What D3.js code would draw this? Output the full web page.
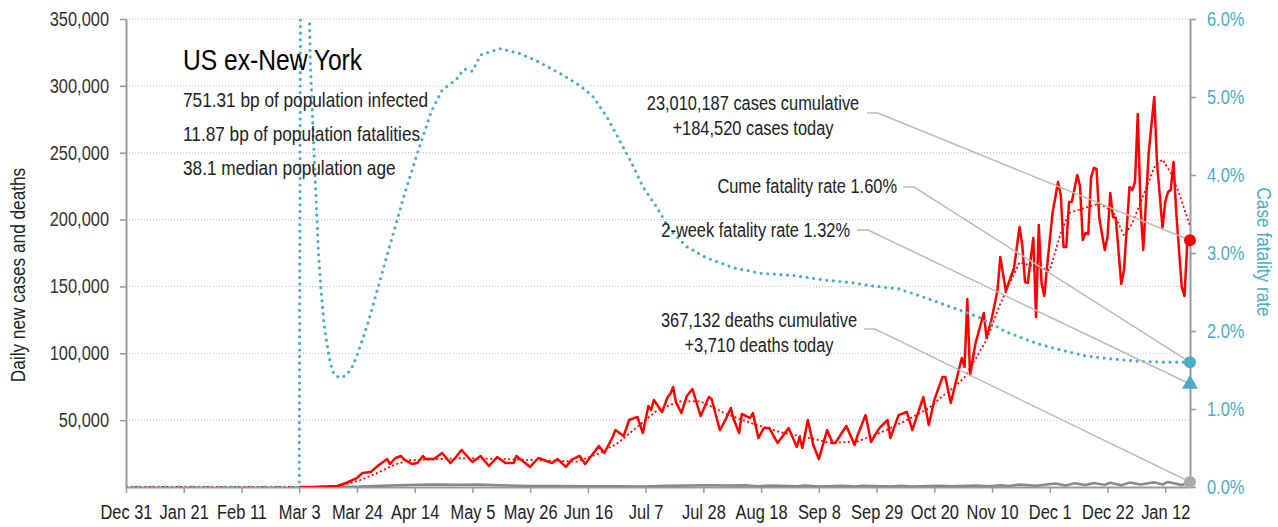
<!DOCTYPE html>
<html>
<head>
<meta charset="utf-8">
<script src="https://cdn.jsdelivr.net/npm/d3@7"></script>
<style>
  body { margin: 0; background: #fff; }
  text { font-family: "Liberation Sans", Arial, sans-serif; }
</style>
</head>
<body>
<svg id="chart" width="1278" height="527"></svg>
<script>
var margin = { top: 19, right: 88, bottom: 40, left: 126 };

// daily new cases, turning points
var dailyCases = [
  ["2020-03-03",0],["2020-03-08",0],["2020-03-17",750],["2020-03-20",3000],["2020-03-24",6700],
  ["2020-03-26",10500],["2020-03-29",11200],["2020-04-01",16500],["2020-04-04",20900],["2020-04-05",17200],
  ["2020-04-07",21700],["2020-04-09",23200],["2020-04-10",20900],["2020-04-13",17200],["2020-04-15",17900],
  ["2020-04-17",23200],["2020-04-18",20900],["2020-04-21",20900],["2020-04-24",25400],["2020-04-27",17900],
  ["2020-04-29",22400],["2020-05-01",27700],["2020-05-05",18700],["2020-05-08",23200],["2020-05-11",15700],
  ["2020-05-14",22400],["2020-05-17",17900],["2020-05-20",17900],["2020-05-21",23200],["2020-05-26",15000],
  ["2020-05-29",21700],["2020-06-03",17900],["2020-06-05",20900],["2020-06-08",15000],["2020-06-10",20200],
  ["2020-06-13",23200],["2020-06-15",17200],["2020-06-20",30700],["2020-06-22",25400],["2020-06-25",37400],
  ["2020-06-26",42600],["2020-06-29",38100],["2020-07-01",50100],["2020-07-04",52400],["2020-07-06",40400],
  ["2020-07-08",60600],["2020-07-09",57600],["2020-07-10",65100],["2020-07-13",56100],["2020-07-15",67300],
  ["2020-07-16",69600],["2020-07-17",74800],["2020-07-18",63600],["2020-07-20",55300],["2020-07-22",68100],
  ["2020-07-24",73300],["2020-07-27",53100],["2020-07-30",67300],["2020-07-31",65800],["2020-08-03",42600],
  ["2020-08-05",50100],["2020-08-07",59100],["2020-08-08",50900],["2020-08-10",40400],["2020-08-11",54600],
  ["2020-08-14",51600],["2020-08-15",55300],["2020-08-17",36600],["2020-08-19",44100],["2020-08-21",44100],
  ["2020-08-24",32900],["2020-08-28",44100],["2020-08-31",29900],["2020-09-01",37400],["2020-09-02",29200],
  ["2020-09-04",50100],["2020-09-06",31400],["2020-09-08",20900],["2020-09-11",42600],["2020-09-13",32900],
  ["2020-09-14",32900],["2020-09-18",45600],["2020-09-21",31400],["2020-09-22",38100],["2020-09-25",53800],
  ["2020-09-27",33700],["2020-09-30",44100],["2020-10-03",50100],["2020-10-04",36600],["2020-10-07",53800],
  ["2020-10-10",56100],["2020-10-12",42600],["2020-10-16",67300],["2020-10-18",46400],["2020-10-20",65100],
  ["2020-10-23",82300],["2020-10-24",82300],["2020-10-26",62800],["2020-10-28",80000],["2020-10-30",96500],
  ["2020-10-31",89700],["2020-11-01",140600],["2020-11-02",83800],["2020-11-04",107700],["2020-11-07",130100],
  ["2020-11-08",111400],["2020-11-10",127100],["2020-11-12",147300],["2020-11-13",172000],["2020-11-15",146600],
  ["2020-11-18",163800],["2020-11-20",194500],["2020-11-21",181000],["2020-11-22",153300],["2020-11-23",152600],
  ["2020-11-25",186200],["2020-11-26",127100],["2020-11-27",196000],["2020-11-28",152600],["2020-11-29",142800],
  ["2020-11-30",164500],["2020-12-02",204900],["2020-12-04",228100],["2020-12-05",218400],["2020-12-06",179500],
  ["2020-12-07",179500],["2020-12-08",213200],["2020-12-09",213200],["2020-12-11",233300],["2020-12-12",225100],
  ["2020-12-13",184700],["2020-12-14",190000],["2020-12-15",189200],["2020-12-16",231100],["2020-12-17",238600],
  ["2020-12-18",237800],["2020-12-19",201200],["2020-12-21",177300],["2020-12-22",187000],["2020-12-23",219900],
  ["2020-12-24",201900],["2020-12-25",201200],["2020-12-27",151800],["2020-12-28",162300],["2020-12-30",224400],
  ["2020-12-31",222100],["2021-01-01",228100],["2021-01-02",279000],["2021-01-03",209400],["2021-01-04",177300],
  ["2021-01-06",250500],["2021-01-08",291700],["2021-01-09",242300],["2021-01-11",193700],["2021-01-12",213200],
  ["2021-01-13",220600],["2021-01-14",222100],["2021-01-15",243100],["2021-01-16",204900],["2021-01-18",149600],
  ["2021-01-19",142800],["2021-01-20",183000],["2021-01-21",184520]
];

// 7-day average of cases (red dotted)
var avgCases = [
  ["2019-12-31",0],["2020-03-10",0],["2020-03-15",300],["2020-03-20",2000],["2020-03-25",5000],
  ["2020-04-01",11000],["2020-04-07",17000],["2020-04-12",20000],["2020-04-30",21500],["2020-05-15",21000],
  ["2020-05-29",20000],["2020-06-12",19000],["2020-06-20",25000],["2020-06-27",33000],["2020-07-04",45000],
  ["2020-07-11",57000],["2020-07-19",64000],["2020-07-27",64000],["2020-08-05",55000],["2020-08-14",48000],
  ["2020-08-25",41000],["2020-09-06",36000],["2020-09-12",33000],["2020-09-22",34000],["2020-10-02",42000],
  ["2020-10-11",51000],["2020-10-18",59000],["2020-10-23",68000],["2020-10-28",76000],["2020-10-31",82000],
  ["2020-11-08",110000],["2020-11-13",137000],["2020-11-17",155000],["2020-11-20",168000],["2020-12-01",162000],
  ["2020-12-05",190000],["2020-12-08",205000],["2020-12-14",209000],["2020-12-19",212000],["2020-12-24",206000],
  ["2020-12-28",188000],["2020-12-31",197000],["2021-01-04",218000],["2021-01-08",239000],["2021-01-11",245000],
  ["2021-01-14",235000],["2021-01-17",220000],["2021-01-21",195000]
];

// daily deaths (gray)
var dailyDeaths = [
  ["2020-03-10",0],["2020-03-15",0],["2020-03-25",300],["2020-04-05",1200],["2020-04-15",1700],
  ["2020-04-22",1900],["2020-05-01",1600],["2020-05-07",1800],["2020-05-15",1300],["2020-05-26",700],
  ["2020-06-05",800],["2020-06-15",500],["2020-06-25",600],["2020-07-06",400],["2020-07-15",900],
  ["2020-07-23",1100],["2020-07-30",1300],["2020-08-06",1200],["2020-08-12",1300],["2020-08-17",600],
  ["2020-08-21",1200],["2020-08-31",500],["2020-09-03",1100],["2020-09-08",400],["2020-09-17",1000],
  ["2020-09-21",300],["2020-09-24",1000],["2020-10-04",400],["2020-10-08",900],["2020-10-12",400],
  ["2020-10-22",1000],["2020-10-26",500],["2020-11-04",1200],["2020-11-09",600],["2020-11-13",1300],
  ["2020-11-16",700],["2020-11-20",1800],["2020-11-26",1000],["2020-12-03",2600],["2020-12-07",1200],
  ["2020-12-10",2800],["2020-12-14",1500],["2020-12-17",3000],["2020-12-21",1600],["2020-12-23",3200],
  ["2020-12-27",1300],["2020-12-30",3300],["2021-01-03",1800],["2021-01-08",3600],["2021-01-11",1800],
  ["2021-01-13",3800],["2021-01-18",1500],["2021-01-21",3710]
];

// case fatality rate, percent (teal dotted, right axis)
var fatalityRate = [
  ["2019-12-31",0],["2020-03-03",0],["2020-03-04",14],["2020-03-05",12],
  ["2020-03-06",7.5],["2020-03-07",5.5],["2020-03-08",4.6],["2020-03-09",3.8],["2020-03-10",3.0],
  ["2020-03-11",2.5],["2020-03-12",2.1],["2020-03-13",1.85],["2020-03-14",1.65],["2020-03-15",1.5],
  ["2020-03-16",1.43],["2020-03-18",1.40],["2020-03-20",1.43],["2020-03-22",1.52],["2020-03-24",1.68],
  ["2020-03-28",2.1],["2020-04-01",2.6],["2020-04-05",3.1],["2020-04-10",3.72],["2020-04-15",4.28],
  ["2020-04-20",4.81],["2020-04-24",5.09],["2020-04-29",5.22],["2020-05-02",5.36],["2020-05-05",5.33],
  ["2020-05-08",5.54],["2020-05-15",5.62],["2020-05-22",5.56],["2020-05-28",5.47],["2020-06-06",5.30],
  ["2020-06-13",5.15],["2020-06-18",5.0],["2020-06-23",4.74],["2020-06-28",4.41],["2020-07-02",4.15],
  ["2020-07-06",3.85],["2020-07-11",3.59],["2020-07-16",3.29],["2020-07-22",3.08],["2020-07-29",2.94],
  ["2020-08-08",2.81],["2020-08-18",2.74],["2020-08-30",2.71],["2020-09-11",2.65],["2020-09-20",2.62],
  ["2020-09-27",2.58],["2020-10-07",2.54],["2020-10-14",2.46],["2020-10-22",2.36],["2020-10-29",2.27],
  ["2020-11-05",2.18],["2020-11-10",2.09],["2020-11-15",1.99],["2020-11-21",1.91],["2020-11-28",1.82],
  ["2020-12-07",1.74],["2020-12-14",1.68],["2020-12-24",1.64],["2021-01-03",1.61],["2021-01-12",1.60],
  ["2021-01-21",1.60]
];

var leftTicks = [50000, 100000, 150000, 200000, 250000, 300000, 350000];
var rightTicks = [0, 1, 2, 3, 4, 5, 6];
var xTickDates = ["2019-12-31","2020-01-21","2020-02-11","2020-03-03","2020-03-24","2020-04-14","2020-05-05",
  "2020-05-26","2020-06-16","2020-07-07","2020-07-28","2020-08-18","2020-09-08","2020-09-29","2020-10-20",
  "2020-11-10","2020-12-01","2020-12-22","2021-01-12"];

var titleText = "US ex-New York";
var statLines = ["751.31 bp of population infected", "11.87 bp of population fatalities", "38.1 median population age"];
var lastDate = "2021-01-21";
var lastCases = 184520, lastDeaths = 3710, cumeRate = 1.60, twoWeekRate = 1.32;
var casesNote = ["23,010,187 cases cumulative", "+184,520 cases today"];
var deathsNote = ["367,132 deaths cumulative", "+3,710 deaths today"];
var cumeNote = "Cume fatality rate 1.60%";
var twoWeekNote = "2-week fatality rate 1.32%";

var RED = "#ff0000", TEAL = "#4bacc6", GRAY = "#888", AXIS = "#999";
var NARROW = 0.82; // no condensed face installed, so squeeze glyphs horizontally
var parse = d3.utcParse("%Y-%m-%d");

var svg = d3.select("#chart");
var width = 1278 - margin.left - margin.right;
var height = 527 - margin.top - margin.bottom;

var x = d3.scaleUtc()
    .domain([parse("2019-12-31"), parse(lastDate)])
    .range([margin.left, margin.left + width]);
var y = d3.scaleLinear().domain([0, 350000]).range([margin.top + height, margin.top]);
var y2 = d3.scaleLinear().domain([0, 6]).range([margin.top + height, margin.top]);

svg.append("defs").append("clipPath").attr("id", "plot-clip")
  .append("rect")
    .attr("x", margin.left).attr("y", margin.top)
    .attr("width", width).attr("height", height);

// gridlines
svg.append("g").selectAll("line")
  .data(leftTicks)
  .enter().append("line")
    .attr("x1", margin.left).attr("x2", margin.left + width)
    .attr("y1", function(d) { return y(d); }).attr("y2", function(d) { return y(d); })
    .attr("stroke", "#bbb").attr("stroke-width", 1).attr("stroke-dasharray", "1,2");

// axes
function styleAxis(g, color) {
  g.selectAll(".domain").attr("stroke", AXIS).attr("stroke-width", 2);
  g.selectAll(".tick line").attr("stroke", AXIS).attr("stroke-width", 1.5);
  g.selectAll(".tick text").attr("fill", color).style("font-size", "20px");
}

svg.append("g")
    .attr("transform", "translate(" + margin.left + ",0)")
    .call(d3.axisLeft(y).tickValues(leftTicks).tickFormat(d3.format(",")).tickSize(6).tickPadding(11).tickSizeOuter(0))
    .call(styleAxis, "#333");

svg.append("g")
    .attr("transform", "translate(" + (margin.left + width) + ",0)")
    .call(d3.axisRight(y2).tickValues(rightTicks).tickFormat(function(d) { return d.toFixed(1) + "%"; })
      .tickSize(6).tickPadding(11).tickSizeOuter(0))
    .call(styleAxis, TEAL);

svg.append("g")
    .attr("transform", "translate(0," + (margin.top + height) + ")")
    .call(d3.axisBottom(x).tickValues(xTickDates.map(parse)).tickFormat(d3.utcFormat("%b %-d"))
      .tickSize(6).tickPadding(12).tickSizeOuter(0))
    .call(styleAxis, "#222");

// axis titles
svg.append("text")
    .attr("transform", "translate(25,275)rotate(-90)")
    .style("text-anchor", "middle").style("font-size", "21px").attr("fill", "#222")
    .text("Daily new cases and deaths");

svg.append("text")
    .attr("transform", "translate(1257,252)rotate(90)")
    .style("text-anchor", "middle").style("font-size", "21px").attr("fill", TEAL)
    .text("Case fatality rate");

// series
var plot = svg.append("g").attr("clip-path", "url(#plot-clip)");

function lineOn(scale) {
  return d3.line()
    .x(function(d) { return x(parse(d[0])); })
    .y(function(d) { return scale(d[1]); });
}

plot.append("path").datum(dailyDeaths)
    .attr("d", lineOn(y)).attr("fill", "none")
    .attr("stroke", GRAY).attr("stroke-width", 2.5).attr("stroke-linejoin", "round");

plot.append("path").datum(avgCases)
    .attr("d", lineOn(y)).attr("fill", "none")
    .attr("stroke", RED).attr("stroke-width", 1.8).attr("stroke-dasharray", "2,2.5");

plot.append("path").datum(dailyCases)
    .attr("d", lineOn(y)).attr("fill", "none")
    .attr("stroke", RED).attr("stroke-width", 2.5).attr("stroke-linejoin", "round");

plot.append("path").datum(fatalityRate)
    .attr("d", lineOn(y2)).attr("fill", "none")
    .attr("stroke", TEAL).attr("stroke-width", 3.2)
    .attr("stroke-linecap", "round").attr("stroke-dasharray", "0,6.6");

// title block
svg.append("text")
    .attr("x", 183).attr("y", 70)
    .style("font-size", "30px").attr("fill", "#000")
    .text(titleText);

svg.append("g").selectAll("text")
  .data(statLines)
  .enter().append("text")
    .attr("x", 183)
    .attr("y", function(d, i) { return 107 + i * 34; })
    .style("font-size", "21px").attr("fill", "#222")
    .text(function(d) { return d; });

// annotations with leader lines
var endX = x(parse(lastDate));
var notes = [
  { lines: casesNote, anchor: "middle", tx: 753, ty: 110, lx: 867, ly: 113, ty2: y(lastCases) },
  { lines: [cumeNote], anchor: "end", tx: 897, ty: 193, lx: 903, ly: 187, ty2: y2(cumeRate) },
  { lines: [twoWeekNote], anchor: "end", tx: 850, ty: 237, lx: 857, ly: 230, ty2: y2(twoWeekRate) },
  { lines: deathsNote, anchor: "middle", tx: 759, ty: 327, lx: 864, ly: 329, ty2: y(lastDeaths) }
];

notes.forEach(function(n) {
  svg.append("polyline")
      .attr("points", [[n.lx, n.ly], [n.lx + 11, n.ly], [endX, n.ty2]].join(" "))
      .attr("fill", "none").attr("stroke", "#bbb").attr("stroke-width", 1.5);
  n.lines.forEach(function(t, i) {
    svg.append("text")
        .attr("x", n.tx).attr("y", n.ty + i * 25)
        .style("text-anchor", n.anchor).style("font-size", "20px").attr("fill", "#222")
        .text(t);
  });
});

// end markers
svg.append("circle").attr("cx", endX).attr("cy", y(lastDeaths)).attr("r", 6).attr("fill", "#aaa");
svg.append("circle").attr("cx", endX).attr("cy", y(lastCases)).attr("r", 6).attr("fill", RED);
svg.append("circle").attr("cx", endX).attr("cy", y2(cumeRate)).attr("r", 6).attr("fill", TEAL);
svg.append("path")
    .attr("d", d3.symbol().type(d3.symbolTriangle).size(110)())
    .attr("transform", "translate(" + endX + "," + y2(twoWeekRate) + ")")
    .attr("fill", TEAL);

// condensed look for every label
svg.selectAll("text").each(function() {
  var w = this.getComputedTextLength();
  d3.select(this).attr("textLength", w * NARROW).attr("lengthAdjust", "spacingAndGlyphs");
});
</script>
</body>
</html>
